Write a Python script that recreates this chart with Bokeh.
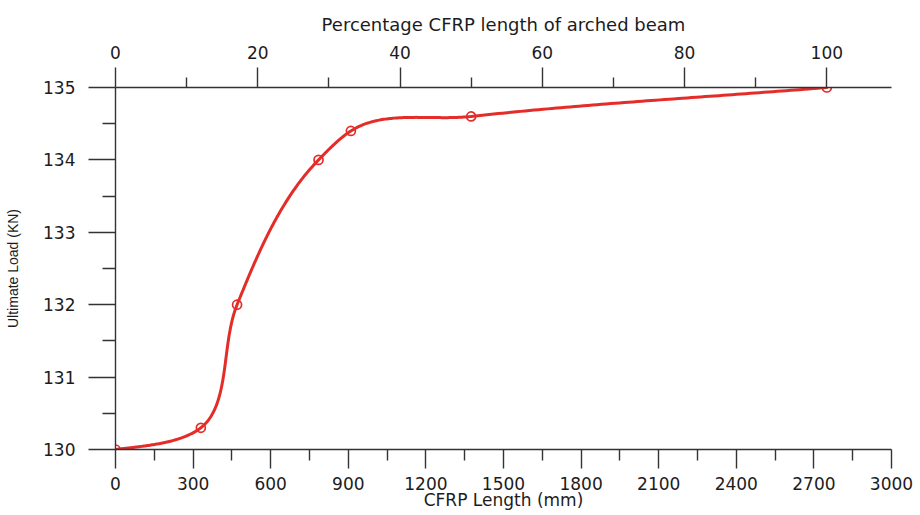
import numpy as np
from bokeh.plotting import figure
from bokeh.models import LinearAxis, Range1d, FixedTicker
from bokeh.embed import file_html
from bokeh.resources import INLINE

# Measured ultimate load against bonded CFRP length
cfrp_length_mm = [0, 330, 470, 785, 910, 1375, 2750]
ultimate_load_kn = [130.0, 130.3, 132.0, 134.0, 134.4, 134.6, 135.0]

# Full beam length (100 % CFRP coverage)
full_length_mm = 2750

# Axis ticks
x_major = list(range(0, 3001, 300))
x_minor = list(range(150, 3000, 300))
y_major = [130, 131, 132, 133, 134, 135]
y_minor = [130.5, 131.5, 132.5, 133.5, 134.5]
pct_major = [0, 20, 40, 60, 80, 100]
pct_minor = [10, 30, 50, 70, 90]

X_MAX = 3000
Y_MIN, Y_MAX = 130, 135

# Plot geometry
W, H = 920, 515
B_LEFT, B_RIGHT, B_TOP, B_BOTTOM = 115, 29, 87, 66
FRAME_W = W - B_LEFT - B_RIGHT
FRAME_H = H - B_TOP - B_BOTTOM
SX = FRAME_W / X_MAX            # px per mm
SY = FRAME_H / (Y_MAX - Y_MIN)  # px per kN

RED = "#e42d28"
AXIS = "#333333"
TEXT = "#1c1c1c"
TICK_FONT = "DejaVu Sans"


def smooth_curve(xs, ys, samples=80):
    """Chordal Catmull-Rom spline through the points, evaluated in screen-proportional
    space; the curve leaves the first point level."""
    P = np.column_stack([np.asarray(xs, float) * SX, (np.asarray(ys, float) - Y_MIN) * SY])
    start = np.array([2 * P[0, 0] - P[1, 0], P[0, 1]])
    end = 2 * P[-1] - P[-2]
    P = np.vstack([start, P, end])
    out = []
    for i in range(1, len(P) - 2):
        p0, p1, p2, p3 = P[i - 1], P[i], P[i + 1], P[i + 2]
        d0 = np.linalg.norm(p1 - p0)
        d1 = np.linalg.norm(p2 - p1)
        d2 = np.linalg.norm(p3 - p2)
        m1 = d1 * ((p1 - p0) / d0 - (p2 - p0) / (d0 + d1) + (p2 - p1) / d1)
        m2 = d1 * ((p2 - p1) / d1 - (p3 - p1) / (d1 + d2) + (p3 - p2) / d2)
        t = np.linspace(0, 1, samples, endpoint=(i == len(P) - 3))[:, None]
        h00 = 2 * t**3 - 3 * t**2 + 1
        h10 = t**3 - 2 * t**2 + t
        h01 = -2 * t**3 + 3 * t**2
        h11 = t**3 - t**2
        out.append(h00 * p1 + h10 * m1 + h01 * p2 + h11 * m2)
    C = np.vstack(out)
    return C[:, 0] / SX, C[:, 1] / SY + Y_MIN


p = figure(
    width=W, height=H,
    x_range=Range1d(0, X_MAX), y_range=Range1d(Y_MIN, Y_MAX),
    x_axis_location=None, y_axis_location=None,
    output_backend="svg", toolbar_location=None,
    min_border_left=B_LEFT, min_border_right=B_RIGHT,
    min_border_top=B_TOP, min_border_bottom=B_BOTTOM,
)
p.outline_line_color = None
p.grid.visible = False
p.background_fill_color = "white"
p.border_fill_color = "white"

p.extra_x_ranges = {"pct": Range1d(0, X_MAX / full_length_mm * 100)}


def style_axis(ax, tick_out, minor_out, standoff):
    ax.axis_line_color = AXIS
    ax.axis_line_width = 1.4
    ax.major_tick_line_color = AXIS
    ax.minor_tick_line_color = AXIS
    ax.major_tick_line_width = 1.4
    ax.minor_tick_line_width = 1.4
    ax.major_tick_in = 0
    ax.minor_tick_in = 0
    ax.major_tick_out = tick_out
    ax.minor_tick_out = minor_out
    ax.major_label_standoff = standoff
    ax.major_label_text_font = TICK_FONT
    ax.major_label_text_font_size = "17px"
    ax.major_label_text_color = TEXT
    ax.axis_label_text_font_style = "normal"
    ax.axis_label_text_color = TEXT


bottom = LinearAxis(ticker=FixedTicker(ticks=x_major, minor_ticks=x_minor),
                    axis_label="CFRP Length (mm)")
style_axis(bottom, 19, 11, 8)
bottom.axis_label_text_font = TICK_FONT
bottom.axis_label_text_font_size = "17px"
bottom.axis_label_standoff = -3
p.add_layout(bottom, "below")

top = LinearAxis(x_range_name="pct",
                 ticker=FixedTicker(ticks=pct_major, minor_ticks=pct_minor),
                 axis_label="Percentage CFRP length of arched beam")
style_axis(top, 20, 10, 9)
top.axis_label_text_font = TICK_FONT
top.axis_label_text_font_size = "18px"
top.axis_label_standoff = 8
p.add_layout(top, "above")

left = LinearAxis(ticker=FixedTicker(ticks=y_major, minor_ticks=y_minor),
                  axis_label="Ultimate Load (KN)")
style_axis(left, 27, 13, 13)
left.axis_label_text_font = "Liberation Sans"
left.axis_label_text_font_size = "14px"
left.axis_label_standoff = 19
p.add_layout(left, "left")

# Smoothed load curve
cx, cy = smooth_curve(cfrp_length_mm, ultimate_load_kn)
p.line(cx, cy, line_color=RED, line_width=3, line_join="round", line_cap="round")

# Open-circle markers
p.scatter(cfrp_length_mm, ultimate_load_kn, marker="circle", size=9,
          fill_color=None, line_color=RED, line_width=1.7)

open("out.html", "w").write(file_html(p, INLINE))
